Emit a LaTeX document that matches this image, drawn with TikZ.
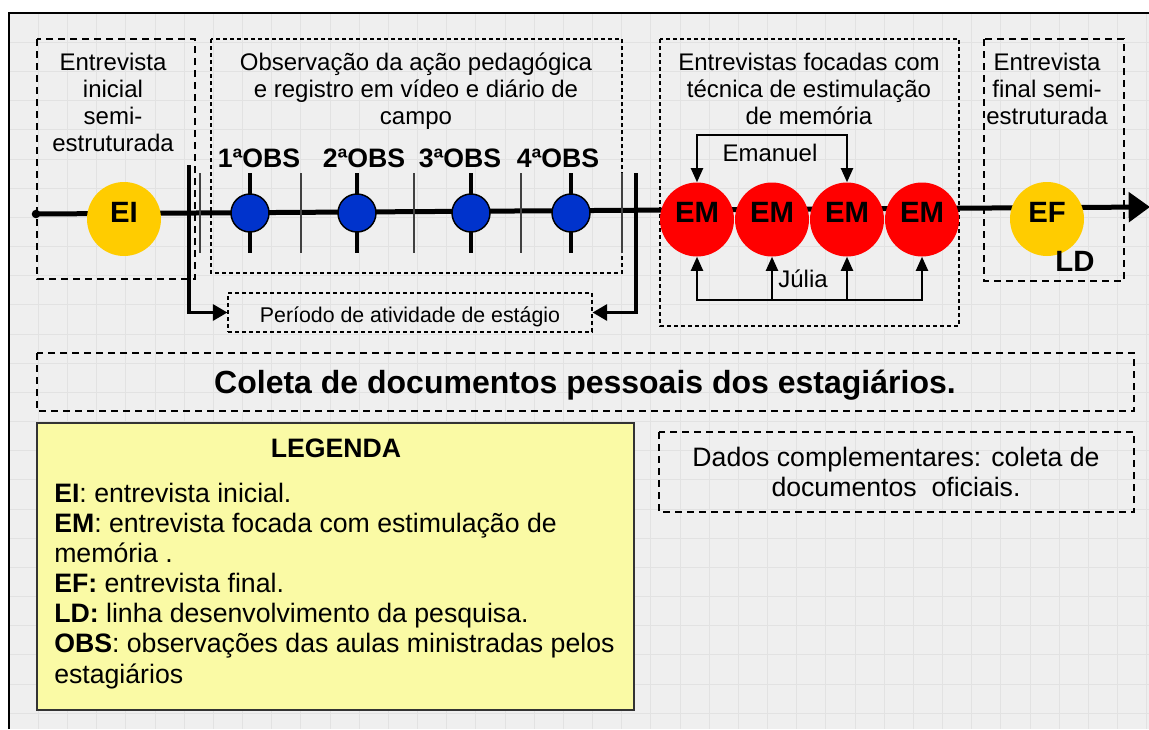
\documentclass[tikz,border=0pt]{standalone}
\usepackage{fontspec}
\setmainfont{Liberation Sans}
\usetikzlibrary{arrows.meta}
\definecolor{bggray}{RGB}{239,239,239}
\definecolor{gridgray}{RGB}{226,226,226}
\definecolor{goldc}{RGB}{255,204,0}
\definecolor{obsblue}{RGB}{0,51,204}
\definecolor{emred}{RGB}{255,0,0}
\definecolor{legyellow}{RGB}{250,250,165}
\newcommand{\fsz}[2]{\fontsize{#1}{#2}\selectfont}
\begin{document}
\begin{tikzpicture}[x=0.75pt,y=-0.75pt,
  boxA/.style={draw=black, dash pattern=on 5.25pt off 3.75pt, line width=1.2pt},
  boxB/.style={draw=black, dash pattern=on 3pt off 2.25pt, line width=0.8pt},
  toplbl/.style={align=center, inner sep=0pt, font=\fsz{18}{20.25}},
  obslbl/.style={anchor=base, inner sep=0pt, font=\bfseries\fsz{20}{22}},
  bigc/.style={circle, minimum size=55.5pt, inner sep=0pt, font=\bfseries\fsz{22}{24}, text height=13pt, text depth=8pt},
  emc/.style={bigc, fill=emred},
  goldcirc/.style={bigc, fill=goldc},
  obsc/.style={circle, draw=black, line width=1.1pt, fill=obsblue, minimum size=28.5pt, inner sep=0pt},
  tick/.style={line width=3pt, black},
  sep/.style={line width=1pt, black!75},
  bar/.style={line width=2.5pt, black},
  brk/.style={line width=1.5pt, black},
  mainline/.style={line width=3.75pt, black},
  legtxt/.style={anchor=base west, inner sep=0pt, font=\fsz{20}{23}},
]
\useasboundingbox (0,0) rectangle (1149,729);
\clip (0,0) rectangle (1149,729);
\fill[white] (0,0) rectangle (1149,729);
\fill[bggray] (9,13) rectangle (1149,729);
\foreach \i in {1,...,39} \draw[gridgray, line width=0.5pt] ({9+29.17*\i},13) -- ({9+29.17*\i},729);
\foreach \j in {1,...,25} \draw[gridgray, line width=0.5pt] (9,{13+29.17*\j}) -- (1149,{13+29.17*\j});
\draw[line width=1.6pt] (9,729) -- (9,13) -- (1149,13);

% dashed container boxes
\draw[boxA] (37,39) rectangle (195,279);
\draw[boxB] (211,39) rectangle (622,273);
\draw[boxB] (660,39) rectangle (959,326);
\draw[boxA] (984,39) rectangle (1124,281);
\draw[boxA] (37,353) rectangle (1134,411);
\draw[boxA] (659,432) rectangle (1134,512);

% top labels (anchor base = baseline of last line)
\node[toplbl, anchor=base] (t1) at (113,151) {Entrevista\\inicial\\semi-\\estruturada};
\node[toplbl, anchor=base] (t2) at (416,124) {Observação da ação pedagógica\\e registro em vídeo e diário de\\campo};
\node[toplbl, anchor=base] (t3) at (809,124) {Entrevistas focadas com\\técnica de estimulação\\de memória};
\node[toplbl, anchor=base] (t4) at (1047,124) {Entrevista\\final semi-\\estruturada};

% OBS labels
\node[obslbl] (l1) at (259,167) {1ªOBS};
\node[obslbl] (l2) at (364,167) {2ªOBS};
\node[obslbl] (l3) at (460,167) {3ªOBS};
\node[obslbl] (l4) at (558,167) {4ªOBS};

% main line
\coordinate (start) at (36,214);
\coordinate (end) at (1150,207);
\draw[mainline, -{Triangle[length=16pt,width=22pt]}] (start) -- (end);
\fill (start) circle[radius=3.2pt];

% separators
\foreach \x in {200,301,414,521,622} \draw[sep] (\x,173) -- (\x,253);

% period bars and box
\node[boxB, minimum width=273pt, minimum height=29.25pt] (per) at (410,312.5) {};
\node[anchor=base, inner sep=0pt, font=\fsz{16}{19}] (pert) at (410,322) {Período de atividade de estágio};
\coordinate (ltop) at (189,165);
\coordinate (rtop) at (636,173);
\draw[bar, -{Triangle[length=11pt,width=12pt]}] (ltop) |- (per.west);
\draw[bar, -{Triangle[length=11pt,width=12pt]}] (rtop) |- (per.east);

% observation circles with ticks
\foreach \n/\x in {o1/250,o2/357,o3/471,o4/571}{
  \draw[tick] (\x,173) -- (\x,253);
  \node[obsc] (\n) at (\x,213) {};
}

% big circles
\node[goldcirc] (ei) at (124,219) {EI};
\node[emc] (em1) at (697,219.5) {EM};
\node[emc] (em2) at (772,219.5) {EM};
\node[emc] (em3) at (847,219.5) {EM};
\node[emc] (em4) at (922,219.5) {EM};
\node[goldcirc] (ef) at (1047,219) {EF};
\node[anchor=base, inner sep=0pt, font=\bfseries\fsz{22}{24}] (ld) at (1075,271) {LD};

% Emanuel bracket
\coordinate (emtop) at (772,135);
\draw[brk, {Triangle[length=10.5pt,width=9pt]}-{Triangle[length=10.5pt,width=9pt]}] (em1.north) |- (emtop) -| (em3.north);
\node[anchor=base, inner sep=0pt, font=\fsz{18}{20}] (eman) at (770,161) {Emanuel};

% Julia bracket
\coordinate (jmid) at (810,300);
\draw[brk, {Triangle[length=10.5pt,width=9pt]}-{Triangle[length=10.5pt,width=9pt]}] (em1.south) |- (jmid) -| (em4.south);
\draw[brk, -{Triangle[length=10.5pt,width=9pt]}] (em2.south |- jmid) -- (em2.south);
\draw[brk, -{Triangle[length=10.5pt,width=9pt]}] (em3.south |- jmid) -- (em3.south);
\node[anchor=base, inner sep=0pt, font=\fsz{18}{20}] (jul) at (803,287) {Júlia};

% Coleta
\node[anchor=base, inner sep=0pt, font=\bfseries\fsz{24}{28}] (col) at (585,393) {Coleta de documentos pessoais dos estagiários.};

% Dados
\node[anchor=base, inner sep=0pt, font=\fsz{20}{23}] (d1) at (896,466) {Dados complementares: coleta de};
\node[anchor=base, inner sep=0pt, font=\fsz{20}{23}] (d2) at (896,496) {documentos\ \ oficiais.};

% Legend
\draw[fill=legyellow, draw=black!80, line width=0.8pt] (37,423) rectangle (634,710);
\node[anchor=base, inner sep=0pt, font=\bfseries\fsz{20}{23}] (leg) at (336,457) {LEGENDA};
\node[legtxt] (g1) at (54,502) {\textbf{EI}: entrevista inicial.};
\node[legtxt] (g2) at (54,532.2) {\textbf{EM}: entrevista focada com estimulação de};
\node[legtxt] (g3) at (54,562.3) {memória .};
\node[legtxt] (g4) at (54,592.5) {\textbf{EF:} entrevista final.};
\node[legtxt] (g5) at (54,622.7) {\textbf{LD:} linha desenvolvimento da pesquisa.};
\node[legtxt] (g6) at (54,652.8) {\textbf{OBS}: observações das aulas ministradas pelos};
\node[legtxt] (g7) at (54,683) {estagiários};
\end{tikzpicture}
\end{document}
